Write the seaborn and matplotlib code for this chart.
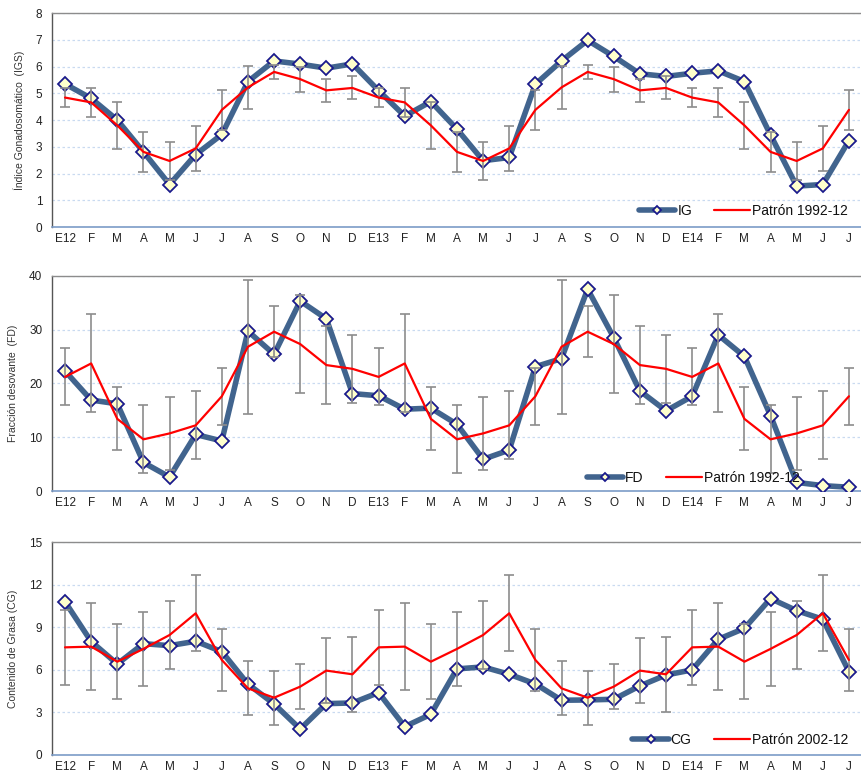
import numpy as np
import pandas as pd
import matplotlib
matplotlib.use("Agg")
import matplotlib.pyplot as plt
import seaborn as sns

sns.set_theme(style="white")
plt.rcParams['font.family'] = ['Liberation Sans', 'DejaVu Sans']

# ---------------- data ----------------
months = ["E12", "F", "M", "A", "M", "J", "J", "A", "S", "O", "N", "D",
          "E13", "F", "M", "A", "M", "J", "J", "A", "S", "O", "N", "D",
          "E14", "F", "M", "A", "M", "J", "J"]

ig = [5.35, 4.81, 4.0, 2.81, 1.59, 2.71, 3.46, 5.44, 6.21, 6.09, 5.94, 6.1,
      5.1, 4.15, 4.69, 3.66, 2.48, 2.6, 5.34, 6.21, 6.98, 6.38, 5.73, 5.63,
      5.75, 5.84, 5.44, 3.44, 1.53, 1.59, 3.23]
ig_pat = [4.84, 4.66, 3.8, 2.81, 2.47, 2.94, 4.38, 5.22, 5.8, 5.53, 5.11, 5.2]
ig_err = [0.36, 0.55, 0.89, 0.75, 0.72, 0.85, 0.74, 0.81, 0.26, 0.47, 0.44, 0.43]

fd = [22.3, 16.9, 16.2, 5.3, 2.6, 10.5, 9.3, 29.7, 25.4, 35.3, 32.0, 18.1,
      17.7, 15.2, 15.4, 12.4, 5.9, 7.6, 23.1, 24.6, 37.5, 28.5, 18.6, 14.9,
      17.6, 29.0, 25.0, 14.0, 1.6, 1.0, 0.7]
fd_pat = [21.2, 23.7, 13.4, 9.6, 10.7, 12.2, 17.6, 26.8, 29.6, 27.3, 23.4, 22.7]
fd_err = [5.3, 9.1, 5.85, 6.3, 6.75, 6.3, 5.25, 12.4, 4.7, 9.1, 7.3, 6.3]

cg = [10.8, 8.0, 6.42, 7.85, 7.71, 8.02, 7.29, 5.0, 3.6, 1.83, 3.62, 3.67,
      4.4, 2.0, 2.87, 6.07, 6.21, 5.69, 5.01, 3.86, 3.88, 3.93, 4.87, 5.64,
      6.0, 8.16, 8.93, 11.03, 10.18, 9.57, 5.88]
cg_pat = [7.59, 7.64, 6.58, 7.48, 8.46, 9.99, 6.7, 4.7, 4.04, 4.82, 5.95, 5.69]
cg_err = [2.62, 3.08, 2.63, 2.6, 2.4, 2.68, 2.17, 1.9, 1.9, 1.61, 2.27, 2.64]

panels = [
    dict(vals=ig, pat=ig_pat, err=ig_err, name="IG", pname="Patrón 1992-12",
         ylabel="Índice Gonadosomático  (IGS)", ymax=8, ystep=1,
         rect=[0.0603, 0.7063, 0.9397, 0.2768], leg=(0.99, 0.075)),
    dict(vals=fd, pat=fd_pat, err=fd_err, name="FD", pname="Patrón 1992-12",
         ylabel="Fracción desovante  (FD)", ymax=40, ystep=10,
         rect=[0.0603, 0.3648, 0.9397, 0.2785], leg=(0.93, 0.06)),
    dict(vals=cg, pat=cg_pat, err=cg_err, name="CG", pname="Patrón 2002-12",
         ylabel="Contenido de Grasa (CG)", ymax=15, ystep=3,
         rect=[0.0603, 0.0233, 0.9397, 0.2752], leg=(0.99, 0.07)),
]

BLUE = "#41648E"
AXBLUE = "#7C9CC7"
fig = plt.figure(figsize=(8.62, 7.73), dpi=100)

n = len(months)
idx = np.arange(n)
for p in panels:
    ax = fig.add_axes(p["rect"])
    pat_full = [p["pat"][i % 12] for i in range(n)]
    err_full = [p["err"][i % 12] for i in range(n)]
    df = pd.DataFrame({"x": idx, "val": p["vals"], "pat": pat_full, "err": err_full})

    sns.lineplot(data=df, x="x", y="val", ax=ax, color=BLUE, lw=4,
                 marker="D", markersize=7, markerfacecolor="#FFFFCC",
                 markeredgecolor="#1A1A8C", markeredgewidth=1.3,
                 label=p["name"], zorder=3)
    ax.errorbar(df["x"], df["pat"], yerr=df["err"], fmt="none", ecolor="#8C8C8C",
                elinewidth=1.2, capsize=3.5, capthick=1.2, zorder=4)
    sns.lineplot(data=df, x="x", y="pat", ax=ax, color="#FF0000", lw=1.6,
                 label=p["pname"], zorder=5)

    ax.set_xlim(-0.5, 29.98)
    ax.set_ylim(0, p["ymax"])
    ax.set_yticks(np.arange(0, p["ymax"] + 0.01, p["ystep"]))
    ax.set_xticks(idx)
    ax.set_xticklabels(months)
    ax.set_xticks(np.arange(-0.5, n, 1), minor=True)
    ax.tick_params(axis="x", which="major", length=0, pad=4.5, labelsize=8.5, labelcolor="#222222")
    ax.tick_params(axis="x", which="minor", length=4, width=1, color=AXBLUE, direction="out")
    ax.tick_params(axis="y", length=4, width=1, color="#555555", direction="out",
                   labelsize=8.5, labelcolor="#222222", pad=3)
    ax.yaxis.grid(True, color="#C9DAF0", ls=(0, (2, 2)), lw=0.9)
    ax.xaxis.grid(False)
    ax.set_axisbelow(True)
    for s in ["top", "right"]:
        ax.spines[s].set_color("#8C8C8C")
        ax.spines[s].set_linewidth(1.0)
    ax.spines["left"].set_color("#555555")
    ax.spines["left"].set_linewidth(1.0)
    ax.spines["bottom"].set_color(AXBLUE)
    ax.spines["bottom"].set_linewidth(1.2)
    ax.set_xlabel("")
    ax.set_ylabel(p["ylabel"], fontsize=7.5, color="#333333", labelpad=8)

    leg = ax.legend(loc="center right", bbox_to_anchor=p["leg"], ncol=2, frameon=False,
                    fontsize=10, handlelength=2.6, handletextpad=0.15, columnspacing=1.6,
                    markerscale=0.6, borderaxespad=0)
    for t in leg.get_texts():
        t.set_color("#111111")

fig.savefig("out.png", dpi=100)
